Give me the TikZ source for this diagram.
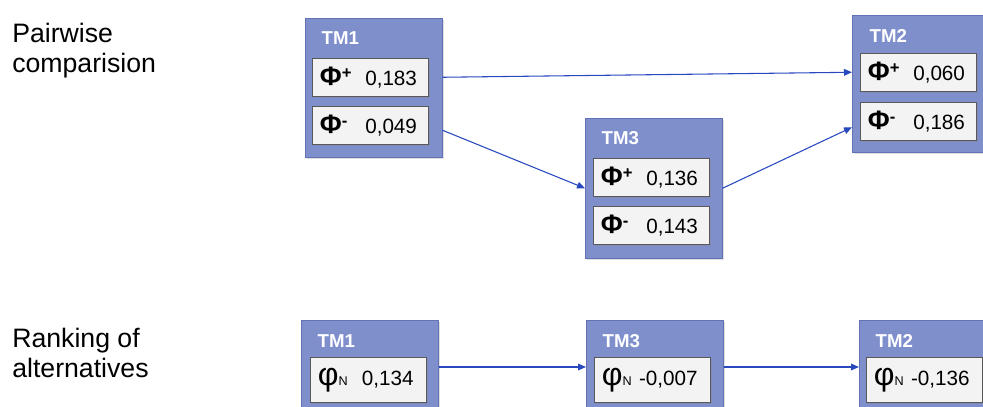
\documentclass[tikz,border=0pt]{standalone}
\usepackage{fontspec}
\setmainfont{Liberation Sans}
\usetikzlibrary{arrows.meta,calc,shadows}

\definecolor{tmfill}{RGB}{127,143,204}
\definecolor{tmedge}{RGB}{98,114,180}
\definecolor{valfill}{RGB}{243,243,243}
\definecolor{flowblue}{RGB}{40,72,192}

% Phi-Zeile: Symbol in fester Spalte, danach der Wert
\newcommand{\phirow}[2]{\makebox[36pt][l]{\hspace{2pt}\bfseries\fontsize{20}{20}\selectfont Φ\raisebox{5pt}{\fontsize{12.5}{12}\selectfont#1}}#2}
\newcommand{\phinet}[1]{\makebox[35pt][l]{\hspace{2pt}{\fontsize{24}{20}\selectfont φ}{\fontsize{9.5}{9}\selectfont N}}#1}

\begin{document}
\begin{tikzpicture}[x=0.75pt, y=-0.75pt, % 1 Einheit = 1 Pixel, y nach unten
  tmbox/.style={draw=tmedge, fill=tmfill, anchor=north west, inner sep=0pt,
    minimum width={137*0.75pt}, drop shadow={shadow xshift=1pt, shadow yshift=-1pt, opacity=0.25}},
  valbox/.style={draw=black!65, fill=valfill, anchor=north west, inner xsep=3.75pt, inner ysep=0pt,
    text width={116*0.75pt-7.5pt}, minimum height={38*0.75pt}, align=left,
    font=\fontsize{15.5}{16}\selectfont, drop shadow={shadow xshift=1pt, shadow yshift=-1pt, opacity=0.3}},
  tmlabel/.style={anchor=base west, text=white, font=\bfseries\fontsize{14}{14}\selectfont},
  sidelabel/.style={anchor=north west, align=left, inner sep=0pt, font=\fontsize{20}{22.5}\selectfont},
  flow/.style={draw=flowblue, line width=0.8pt, -{Triangle[length=6pt,width=5pt]}}]
  \useasboundingbox (0,0) rectangle (983,407);
  \clip (0,0) rectangle (983,407);

  % Beschriftung links
  \node[sidelabel] (pw) at (12,23) {Pairwise\\comparision};
  \node[sidelabel] (rk) at (12,328) {Ranking of\\alternatives};

  % paarweiser Vergleich
  \node[tmbox, minimum height={139*0.75pt}] (tm1) at (305,18) {};
  \node[tmlabel] (tm1t) at ($(tm1.north west)+(12,27)$) {TM1};
  \node[valbox] (tm1p) at (312,58) {\phirow{+}{0,183}};
  \node[valbox] (tm1m) at (312,106) {\phirow{-}{0,049}};

  \node[tmbox, minimum height={140*0.75pt}] (tm3) at (585,118) {};
  \node[tmlabel] (tm3t) at ($(tm3.north west)+(12,26)$) {TM3};
  \node[valbox] (tm3p) at (593,158) {\phirow{+}{0,136}};
  \node[valbox] (tm3m) at (593,206) {\phirow{-}{0,143}};

  \node[tmbox, minimum height={137*0.75pt}] (tm2) at (852,15) {};
  \node[tmlabel] (tm2t) at ($(tm2.north west)+(13,27)$) {TM2};
  \node[valbox] (tm2p) at (860,53) {\phirow{+}{0,060}};
  \node[valbox] (tm2m) at (860,102) {\phirow{-}{0,186}};

  \draw[flow] (tm1.east |- tm1p) -- (tm2.west |- tm2p);
  \draw[flow] ($(tm1.east |- tm1m)+(0,5)$) -- (tm3.west);
  \draw[flow] (tm3.east) -- ($(tm2.west |- tm2m)+(0,6)$);

  % Rangfolge
  \node[tmbox, minimum height={100*0.75pt}] (rtm1) at (301,320) {};
  \node[tmlabel] (rtm1t) at ($(rtm1.north west)+(12,27)$) {TM1};
  \node[valbox, minimum height={45*0.75pt}] (rtm1n) at (310,357) {\phinet{0,134}};

  \node[tmbox, minimum height={100*0.75pt}] (rtm3) at (586,320) {};
  \node[tmlabel] (rtm3t) at ($(rtm3.north west)+(12,27)$) {TM3};
  \node[valbox, minimum height={45*0.75pt}] (rtm3n) at (594,357) {\phinet{\llap{-}0,007}};

  \node[tmbox, minimum height={100*0.75pt}] (rtm2) at (859,320) {};
  \node[tmlabel] (rtm2t) at ($(rtm2.north west)+(12,27)$) {TM2};
  \node[valbox, minimum height={45*0.75pt}] (rtm2n) at (866,357) {\phinet{\llap{-}0,136}};

  \draw[flow] ($(rtm1.north east)+(0,47)$) -- ($(rtm3.north west)+(0,47)$);
  \draw[flow] ($(rtm3.north east)+(0,47)$) -- ($(rtm2.north west)+(0,47)$);
\end{tikzpicture}
\end{document}
